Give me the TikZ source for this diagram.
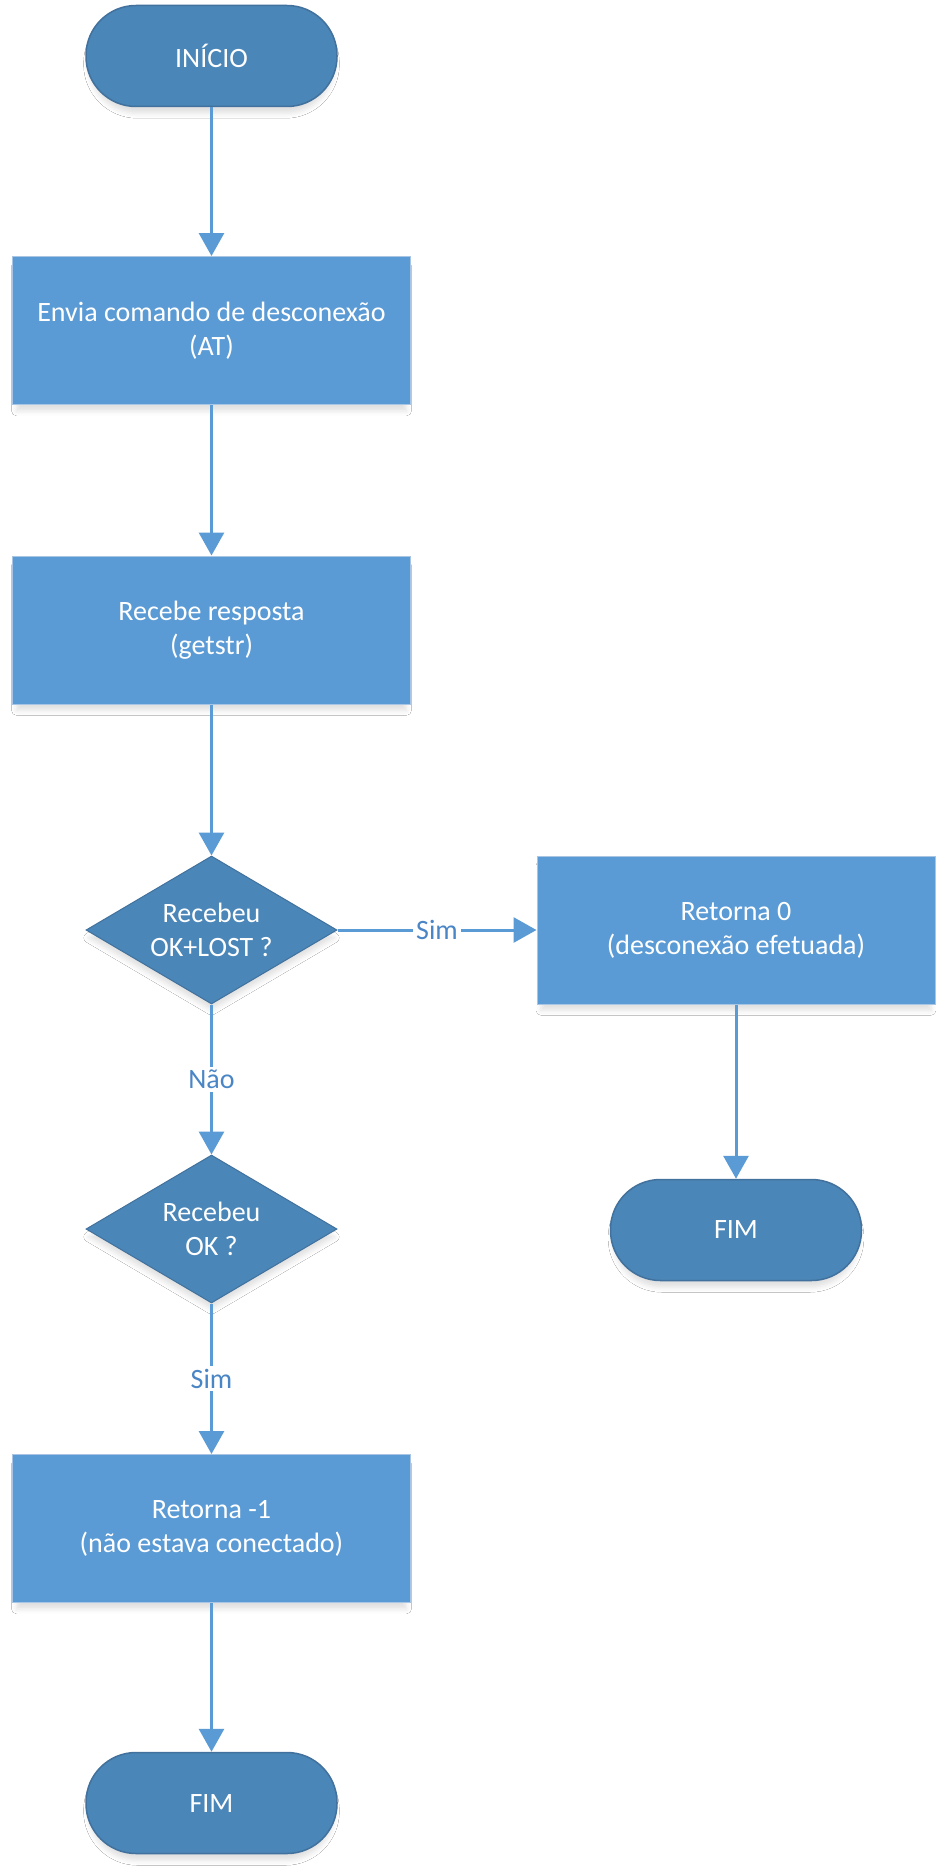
\documentclass[tikz,border=0pt]{standalone}
\usepackage{fontspec}
\setmainfont{Carlito}
\usetikzlibrary{arrows.meta,shapes.geometric,shadows.blur}

\definecolor{termfill}{HTML}{4A86B8}
\definecolor{termline}{HTML}{41719C}
\definecolor{boxfill}{HTML}{5B9BD5}
\definecolor{boxline}{HTML}{A8C6E4}
\definecolor{flow}{HTML}{5B9BD5}
\definecolor{lbl}{HTML}{4A86C5}

\tikzset{
  softshadow/.style={blur shadow={shadow xshift=0pt, shadow yshift=-8pt,
      shadow blur radius=5pt, shadow scale=0.98, shadow opacity=12}},
  terminal/.style={rectangle, rounded corners=50pt, fill=termfill, draw=termline,
      line width=1.5pt, minimum width=251pt, minimum height=101pt,
      text=white, softshadow},
  process/.style={rectangle, fill=boxfill, draw=boxline, line width=1pt,
      minimum width=398pt, minimum height=148pt, align=center,
      text=white, softshadow},
  decision/.style={diamond, aspect=1.7, inner sep=0pt, fill=termfill,
      draw=termline, line width=1pt, minimum width=251pt, minimum height=148pt,
      align=center, text=white, softshadow},
  flowline/.style={draw=flow, line width=3pt,
      -{Triangle[width=25pt,length=23pt]}},
  flowlabel/.style={fill=white, text=lbl, inner sep=3pt}
}

\begin{document}
\begin{tikzpicture}[x=1pt, y=-1pt, font=\fontsize{28}{34}\selectfont]
  \useasboundingbox[fill=white] (0,0) rectangle (950,1873);

  % main column
  \node[terminal] (start) at (211.5,56)    {INÍCIO};
  \node[process]  (send)  at (211.5,330.5) {Envia comando de desconexão\\(AT)};
  \node[process]  (recv)  at (211.5,630)   {Recebe resposta\\(getstr)};
  \node[decision] (q1)    at (211.5,930)   {Recebeu\\OK+LOST ?};
  \node[decision] (q2)    at (211.5,1229)  {Recebeu\\OK ?};
  \node[process]  (retm)  at (211.5,1528.5){Retorna -1\\(não estava conectado)};
  \node[terminal] (end2)  at (211.5,1803)  {FIM};

  % success branch
  \node[process]  (ret0)  at (736,930)     {Retorna 0\\(desconexão efetuada)};
  \node[terminal] (end1)  at (736,1230)    {FIM};

  % connectors
  \draw[flowline] (start) -- (send);
  \draw[flowline] (send)  -- (recv);
  \draw[flowline] (recv)  -- (q1);
  \draw[flowline] (q1.east) -- node[flowlabel] {Sim} (ret0.west);
  \draw[flowline] (ret0)  -- (end1);
  \draw[flowline] (q1.south) -- node[flowlabel] {Não} (q2.north);
  \draw[flowline] (q2.south) -- node[flowlabel] {Sim} (retm.north);
  \draw[flowline] (retm)  -- (end2);
\end{tikzpicture}
\end{document}
